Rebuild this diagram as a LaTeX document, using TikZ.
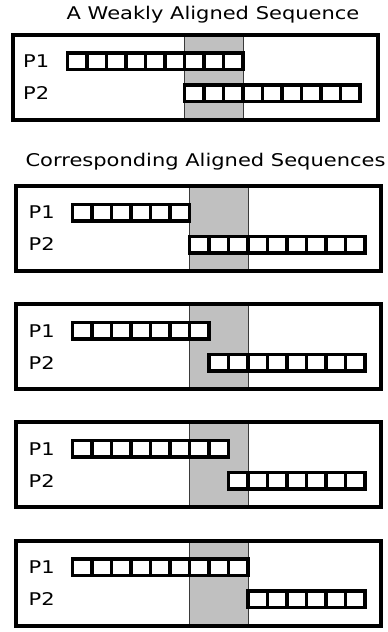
\documentclass[tikz,border=0pt]{standalone}
\usepackage{fontspec}
\setmainfont{DejaVu Sans}
\newfontfamily\sqfonte[FakeStretch=1.2]{DejaVu Sans}
\usetikzlibrary{positioning}
\definecolor{sqcinza}{HTML}{C0C0C0}
\definecolor{sqborda}{HTML}{3A3A3A}
\tikzset{
  sqquadro/.style={draw=black, line width=4pt, inner sep=0pt,
                  minimum width=365pt, minimum height=85pt},
  sqfaixa/.style={draw=sqborda, fill=sqcinza, line width=0.9pt, inner sep=0pt,
                  minimum width=58.5pt, minimum height=85pt},
  sqcelula/.style={draw=black, fill=white, line width=3.5pt, inner sep=0pt,
                  minimum width=19.5pt, minimum height=16.5pt},
  sqrotulo/.style={font=\sqfonte\fontsize{17.5}{20}\selectfont, anchor=west, inner sep=0pt},
  sqtitulo/.style={font=\sqfonte\fontsize{17.5}{20}\selectfont, anchor=base, inner sep=0pt},
}

\begin{document}
\begin{tikzpicture}[x=1pt, y=-1pt]
        \useasboundingbox (0,0) rectangle (388,632);
        % ---------------- weakly aligned ----------------
        \node[sqtitulo] (twa) at (213,19) {A Weakly Aligned Sequence};
        \node[sqfaixa] (ba) at (213.75,77) {};
        \node[sqquadro] (wa) at (195,77) {};
        \node[sqrotulo] (wa-l1) at (23,61) {P1};
        \node[sqrotulo] (wa-l2) at (23,93) {P2};
        \foreach \i in {1,...,9} \node[sqcelula] (wa-a\i) at ({57.75+19.5*\i},61) {};
        \foreach \i in {1,...,9} \node[sqcelula] (wa-b\i) at ({174.75+19.5*\i},93) {};
        % ---------------- corresponding aligned ----------------
        \node[sqtitulo] (tca) at (205.5,166) {Corresponding Aligned Sequences};
        \foreach \k/\y in {1/228.5, 2/346.7, 3/464.9, 4/583.1} {
          \pgfmathtruncatemacro\na{5+\k}
          \pgfmathtruncatemacro\nb{10-\k}
          \node[sqfaixa] (b\k) at (218.75,\y) {};
          \node[sqquadro] (c\k) at (198,\y) {};
          \node[sqrotulo] (c\k-l1) at (28.5,{\y-16}) {P1};
          \node[sqrotulo] (c\k-l2) at (28.5,{\y+16}) {P2};
          \foreach \i in {1,...,\na} \node[sqcelula] (c\k-a\i) at ({62.75+19.5*\i},{\y-16}) {};
          \foreach \i in {1,...,\nb} \node[sqcelula] (c\k-b\i) at ({160.25+19.5*(\k+\i)},{\y+16}) {};
        }
    \end{tikzpicture}
\end{document}
